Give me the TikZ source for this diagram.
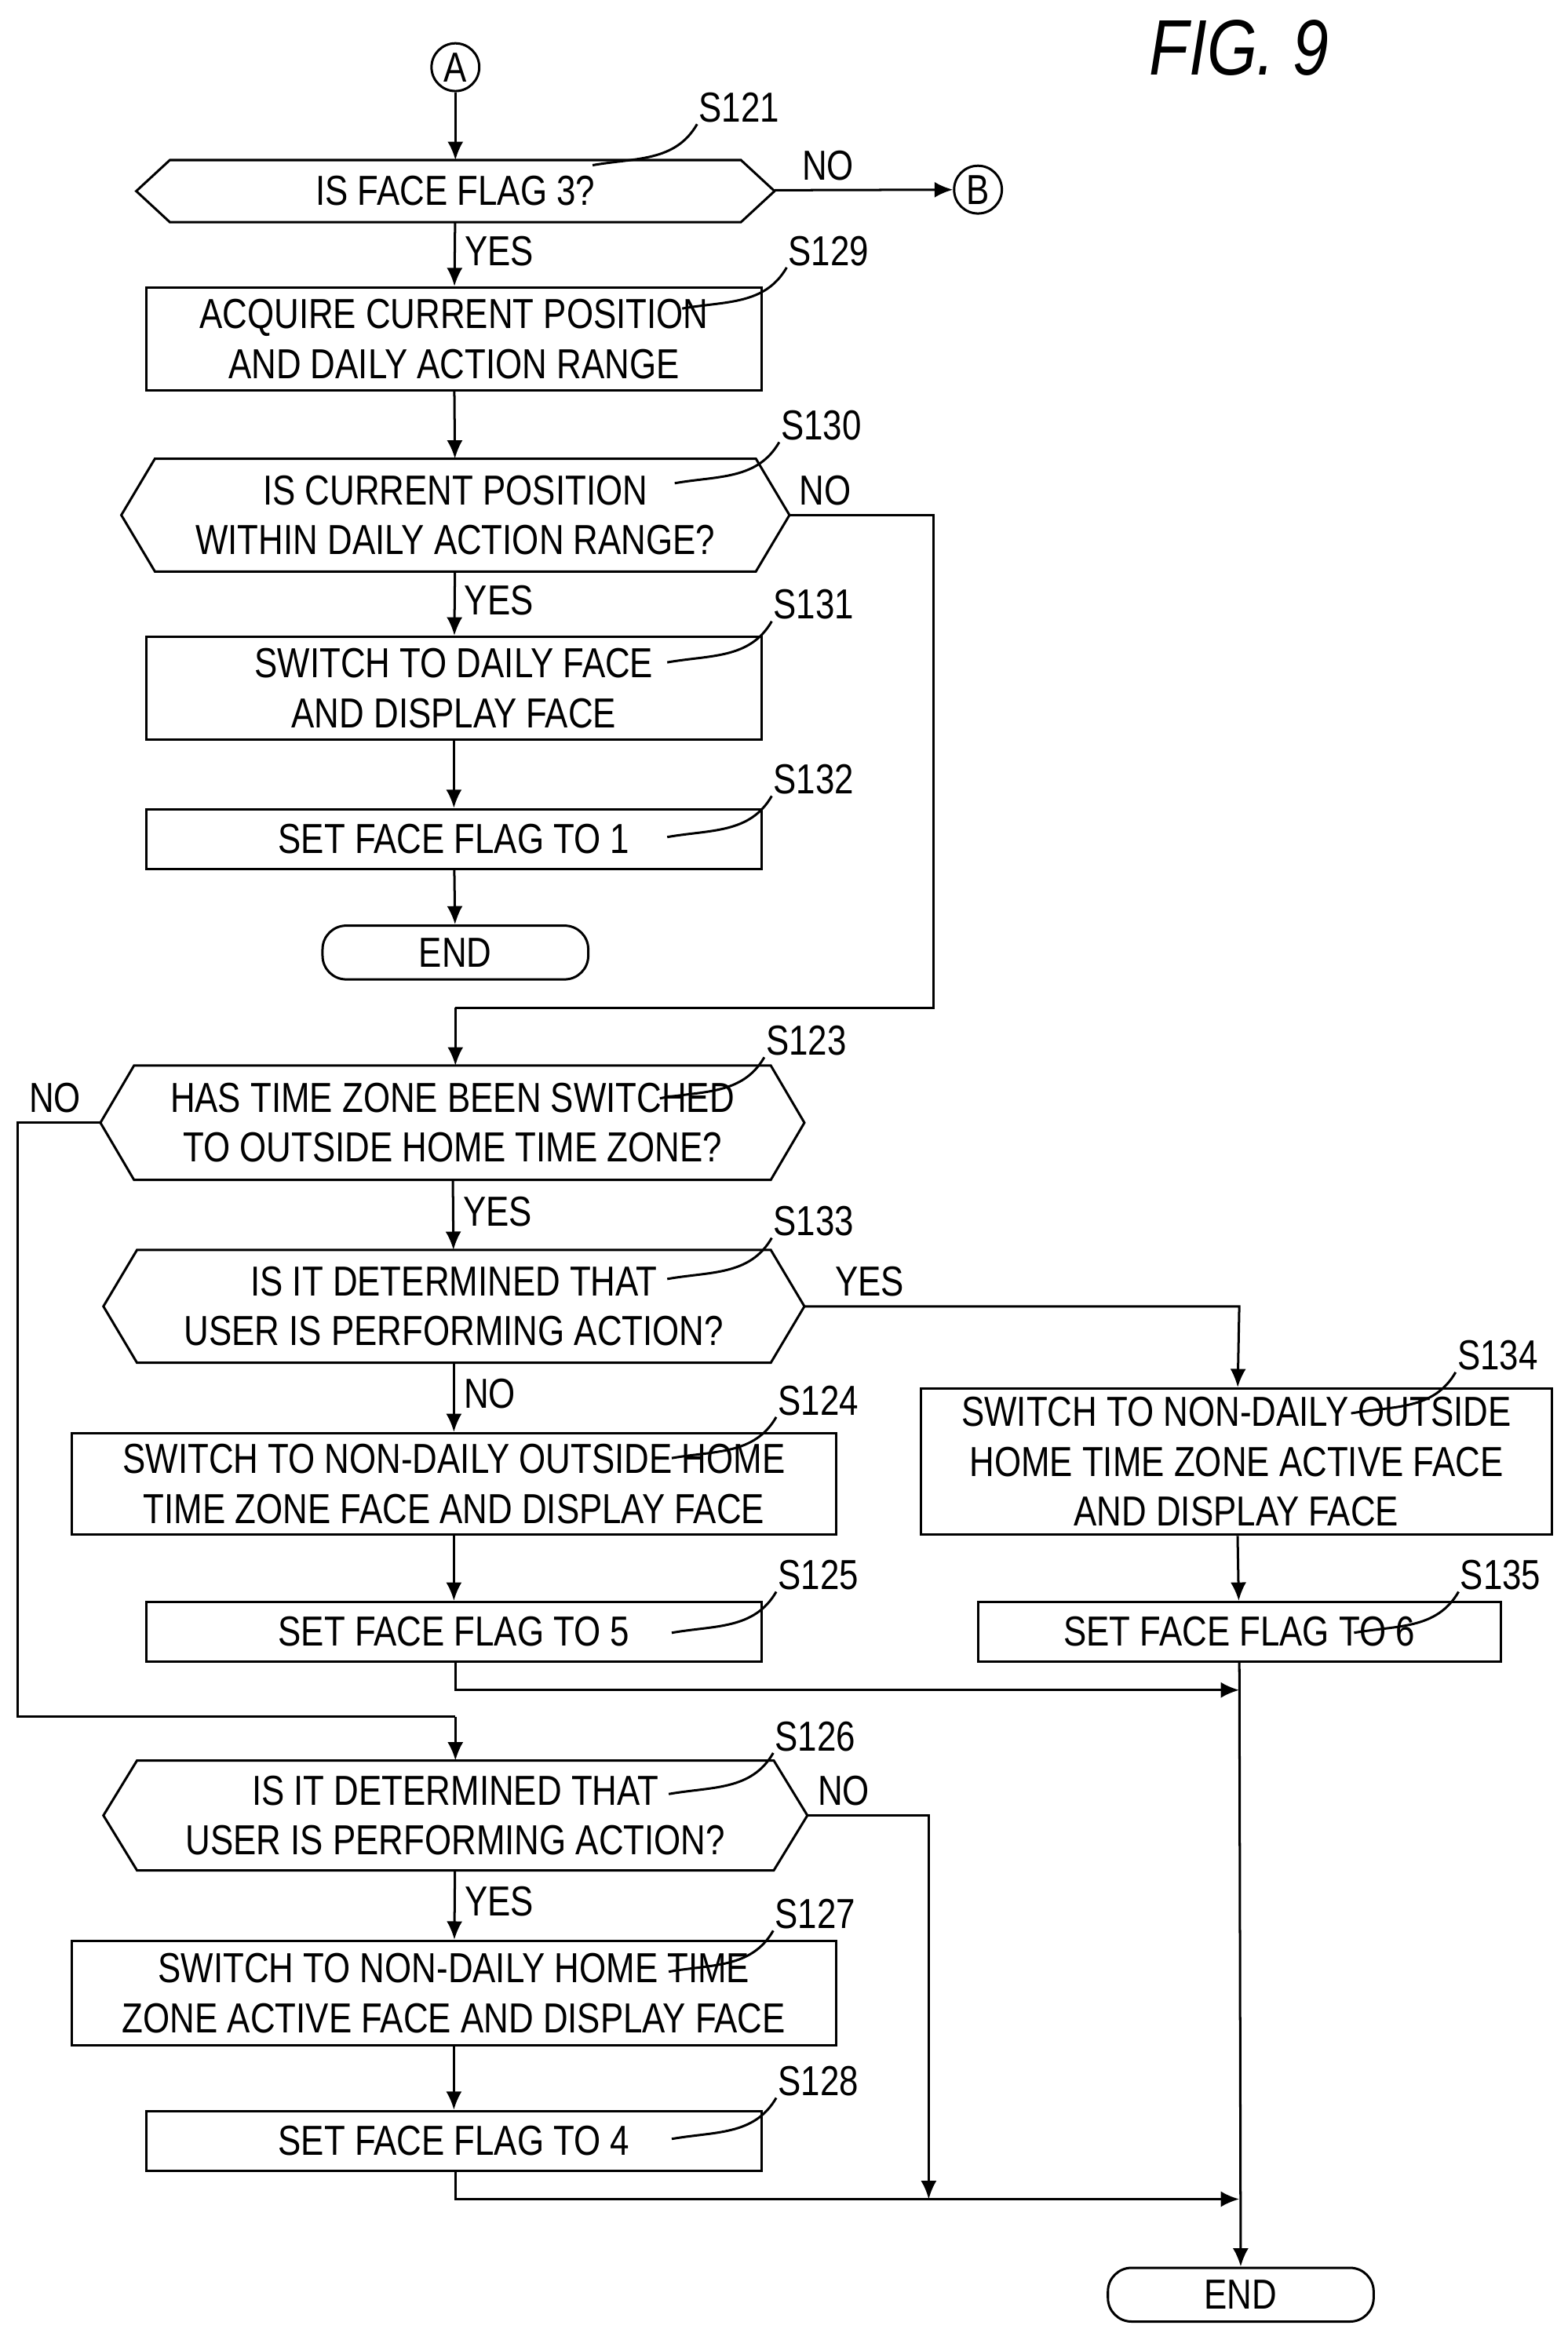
\documentclass[tikz,border=0pt]{standalone}
\usepackage{fontspec}
\setsansfont{Liberation Sans}[FakeStretch=0.82]
\usetikzlibrary{arrows.meta}
\tikzset{
  base/.style={draw, line width=0.9pt, font=\sffamily\fontsize{16}{19}\selectfont, align=center, inner sep=0pt},
  proc/.style={base, rectangle},
  dec/.style={base, rectangle, draw=none},
  term/.style={base, rounded corners=9pt},
  conn/.style={base, circle, minimum size=0.64cm},
  flow/.style={line width=0.9pt, -{Latex[length=7pt,width=6pt]}},
  line/.style={line width=0.9pt},
  lbl/.style={font=\sffamily\fontsize{16}{19}\selectfont},
}
\begin{document}
\begin{tikzpicture}[x=0.02cm, y=-0.02cm]
    \useasboundingbox (0,0) rectangle (1050,1560);
    \node[font=\sffamily\itshape\fontsize{30}{34}\selectfont] (fig) at (830,32) {FIG. 9};

    % Connectors and terminals
    \node[conn] (A) at (305,45) {A};
    \node[conn] (B) at (655,127) {B};
    \node[term, minimum width=3.56cm, minimum height=0.72cm] (end1) at (305,638) {END};
    \node[term, minimum width=3.56cm, minimum height=0.72cm] (end2) at (831,1537) {END};

    % Decisions (hexagon outline drawn below)
    \node[dec, minimum width=8.52cm, minimum height=0.8cm] (s121) at (305,128) {IS FACE FLAG 3?};
    \node[dec, minimum width=8.92cm, minimum height=1.48cm] (s130) at (305,345) {IS CURRENT POSITION\\WITHIN DAILY ACTION RANGE?};
    \node[dec, minimum width=9.4cm, minimum height=1.5cm] (s123) at (303,752) {HAS TIME ZONE BEEN SWITCHED\\TO OUTSIDE HOME TIME ZONE?};
    \node[dec, minimum width=9.36cm, minimum height=1.48cm] (s133) at (304,875) {IS IT DETERMINED THAT\\USER IS PERFORMING ACTION?};
    \node[dec, minimum width=9.4cm, minimum height=1.44cm] (s126) at (305,1216) {IS IT DETERMINED THAT\\USER IS PERFORMING ACTION?};
    \foreach \n in {s121,s130,s123,s133,s126}
      \draw[line] (\n.west) -- ([xshift=0.45cm]\n.north west) -- ([xshift=-0.45cm]\n.north east)
        -- (\n.east) -- ([xshift=-0.45cm]\n.south east) -- ([xshift=0.45cm]\n.south west) -- cycle;

    % Processes
    \node[proc, minimum width=8.24cm, minimum height=1.38cm] (s129) at (304,227) {ACQUIRE CURRENT POSITION\\AND DAILY ACTION RANGE};
    \node[proc, minimum width=8.24cm, minimum height=1.38cm] (s131) at (304,461) {SWITCH TO DAILY FACE\\AND DISPLAY FACE};
    \node[proc, minimum width=8.24cm, minimum height=0.8cm] (s132) at (304,562) {SET FACE FLAG TO 1};
    \node[proc, minimum width=10.24cm, minimum height=1.36cm] (s124) at (304,994) {SWITCH TO NON-DAILY OUTSIDE HOME\\TIME ZONE FACE AND DISPLAY FACE};
    \node[proc, minimum width=8.24cm, minimum height=0.8cm] (s125) at (304,1093) {SET FACE FLAG TO 5};
    \node[proc, minimum width=8.46cm, minimum height=1.96cm] (s134) at (828,979) {SWITCH TO NON-DAILY OUTSIDE\\HOME TIME ZONE ACTIVE FACE\\AND DISPLAY FACE};
    \node[proc, minimum width=7cm, minimum height=0.8cm] (s135) at (830,1093) {SET FACE FLAG TO 6};
    \node[proc, minimum width=10.24cm, minimum height=1.4cm] (s127) at (304,1335) {SWITCH TO NON-DAILY HOME TIME\\ZONE ACTIVE FACE AND DISPLAY FACE};
    \node[proc, minimum width=8.24cm, minimum height=0.8cm] (s128) at (304,1434) {SET FACE FLAG TO 4};

    % Step labels with leaders
    \foreach \n/\x/\y in {S121/495/72, S129/555/168, S130/550/285, S131/545/405, S132/545/522,
        S123/540/697, S133/545/818, S124/548/938, S125/548/1055, S134/1003/908,
        S135/1005/1055, S126/546/1163, S127/546/1282, S128/548/1394} {
      \node[lbl] (l\n) at (\x,\y) {\n};
      \draw[line] ([xshift=-1.3cm, yshift=-0.45cm]l\n.south west) to[out=10, in=240] ([xshift=0.1cm, yshift=0.1cm]l\n.south west);
    }

    % Flow
    \coordinate (j1) at (625,345);
    \coordinate (j2) at (625,675);
    \coordinate (j3) at (305,675);
    \coordinate (j4) at (12,752);
    \coordinate (j5) at (12,1150);
    \coordinate (j6) at (305,1150);
    \coordinate (j7) at (830,875);
    \coordinate (j8) at (305,1132);
    \coordinate (j9) at (830,1132);
    \coordinate (j10) at (622,1216);
    \coordinate (j11) at (622,1473);
    \coordinate (j12) at (305,1473);
    \coordinate (j13) at (830,1473);

    \draw[flow] (A) -- (s121);
    \draw[flow] (s121) -- node[lbl, above, pos=0.3] {NO} (B);
    \draw[flow] (s121) -- node[lbl, right, pos=0.45] {YES} (s129);
    \draw[flow] (s129) -- (s130);
    \draw[line] (s130.east) -- node[lbl, above, pos=0.25] {NO} (j1) -- (j2) -- (j3);
    \draw[flow] (j3) -- (s123.north -| j3);
    \draw[flow] (s130) -- node[lbl, right, pos=0.45] {YES} (s131);
    \draw[flow] (s131) -- (s132);
    \draw[flow] (s132) -- (end1);
    \draw[line] (s123.west) -- node[lbl, above, pos=0.55] {NO} (j4) -- (j5) -- (j6);
    \draw[flow] (j6) -- (s126.north -| j6);
    \draw[flow] (s123) -- node[lbl, right, pos=0.45] {YES} (s133);
    \draw[flow] (s133.east) -- node[lbl, above, pos=0.15] {YES} (j7) -- (s134);
    \draw[flow] (s133) -- node[lbl, right, pos=0.45] {NO} (s124);
    \draw[flow] (s124) -- (s125);
    \draw[flow] (s134) -- (s135);
    \draw[flow] (s125.south -| j8) -- (j8) -- (j9);
    \draw[flow] (s135) -- (end2);
    \draw[flow] (s126.east) -- node[lbl, above, pos=0.3] {NO} (j10) -- (j11);
    \draw[flow] (s126) -- node[lbl, right, pos=0.45] {YES} (s127);
    \draw[flow] (s127) -- (s128);
    \draw[flow] (s128.south -| j12) -- (j12) -- (j13);
\end{tikzpicture}
\end{document}
